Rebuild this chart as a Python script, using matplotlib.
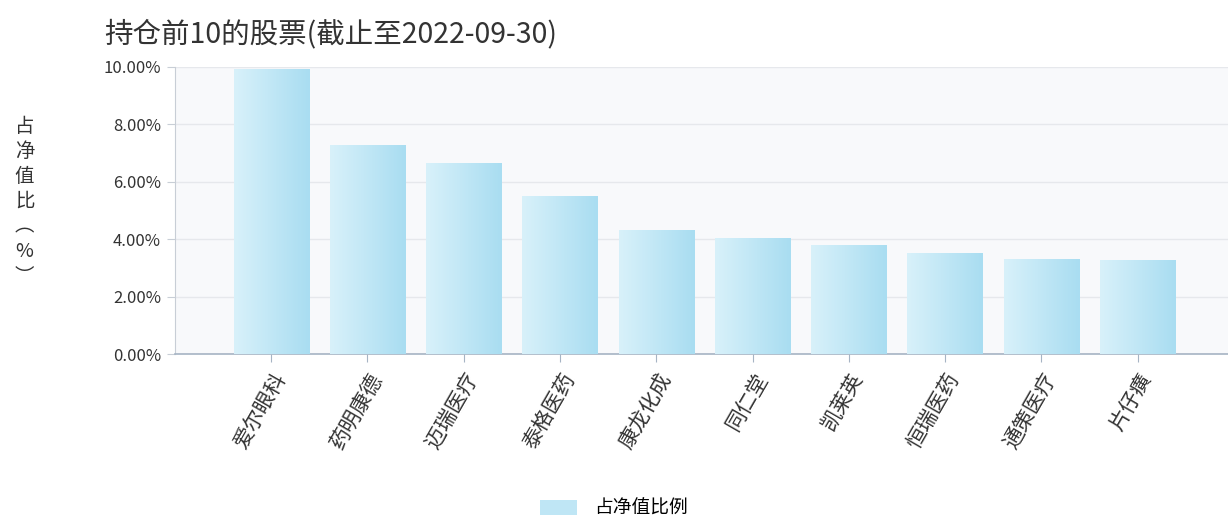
import matplotlib
matplotlib.use("Agg")
import matplotlib.pyplot as plt
import numpy as np
from matplotlib.patches import Patch
from matplotlib.colors import LinearSegmentedColormap

plt.rcParams['font.family'] = ['Noto Sans CJK SC', 'DejaVu Sans']

categories = ["爱尔眼科", "药明康德", "迈瑞医疗", "泰格医药", "康龙化成",
              "同仁堂", "凯莱英", "恒瑞医药", "通策医疗", "片仔癀"]
values = [9.93, 7.27, 6.64, 5.50, 4.32, 4.03, 3.81, 3.51, 3.31, 3.27]
yticks = [0, 2, 4, 6, 8, 10]
ytick_labels = ["0.00%", "2.00%", "4.00%", "6.00%", "8.00%", "10.00%"]
title = "持仓前10的股票(截止至2022-09-30)"
ylabel = "占净值比︵%︶"
legend_label = "占净值比例"

fig = plt.figure(figsize=(12.28, 5.23), dpi=100)
ax = fig.add_axes([0.1425, 0.3231, 0.8575, 0.5488])
ax.set_facecolor("#f8f9fb")

x = np.arange(len(categories))
bars = ax.bar(x, values, width=0.78, color="#c2e8f6", zorder=2)

cmap = LinearSegmentedColormap.from_list("g", ["#d8f1fa", "#a9ddf1"])
grad = np.linspace(0, 1, 64).reshape(1, -1)
for b in bars:
    x0, w, h = b.get_x(), b.get_width(), b.get_height()
    im = ax.imshow(grad, cmap=cmap, aspect="auto", extent=[x0, x0 + w, 0, h],
                   zorder=3, interpolation="bicubic")
    im.set_clip_path(b)

ax.set_xlim(-1.0, 9.94)
ax.set_ylim(0, 10)
ax.set_yticks(yticks)
ax.set_yticklabels(ytick_labels, fontsize=12, color="#333333")
ax.grid(axis="y", color="#e6e8ec", linewidth=1, zorder=0)
ax.set_axisbelow(True)

ax.set_xticks(x)
ax.set_xticklabels(categories, rotation=60, ha="right", va="top",
                   rotation_mode="anchor", fontsize=15, color="#333333")

for s in ["top", "right"]:
    ax.spines[s].set_visible(False)
ax.spines["left"].set_color("#c8ced6")
ax.spines["bottom"].set_color("#a6b4c4")
ax.spines["bottom"].set_linewidth(1.2)
ax.tick_params(axis="y", length=6, color="#c8ced6", pad=4)
ax.tick_params(axis="x", length=6, color="#a6b4c4", pad=5)

fig.text(0.085, 0.935, title, fontsize=20.5, color="#333333", ha="left", va="center")

fig.text(0.02, 0.615, "\n".join(ylabel), fontsize=14, color="#333333",
         ha="center", va="center", linespacing=1.25)

leg = fig.legend(handles=[Patch(facecolor="#bfe6f5", edgecolor="none")],
                 labels=[legend_label], loc="center", bbox_to_anchor=(0.5, 0.028),
                 frameon=False, fontsize=13.5, handlelength=2.0, handleheight=0.8,
                 handletextpad=0.9)

fig.savefig("out.png", dpi=100, facecolor="white")
